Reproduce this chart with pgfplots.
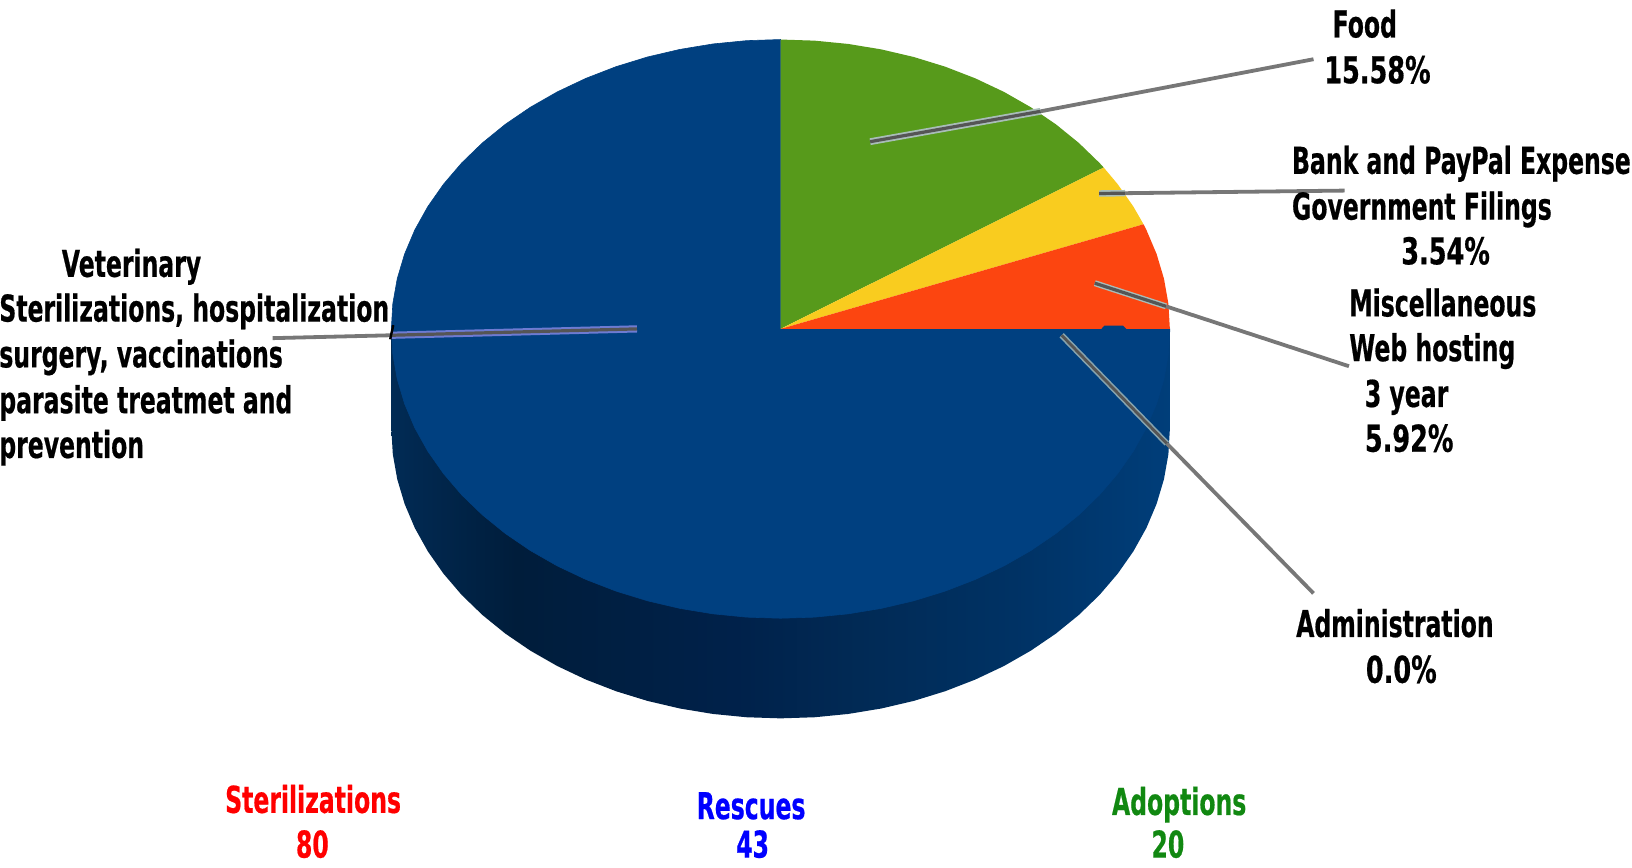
\documentclass[border=0pt]{standalone}
\usepackage{pgfplots}
\pgfplotsset{compat=1.18}
\usepackage{fontspec}
\setmainfont[FakeStretch=0.636,FakeBold=0.5]{DejaVu Sans}
\newfontfamily\pctfont[FakeStretch=0.69,FakeBold=0.5]{DejaVu Sans}
\definecolor{pieblue}{HTML}{004080}
\definecolor{piegreen}{HTML}{579A1B}
\definecolor{pieyellow}{HTML}{F9CC1F}
\definecolor{pieorange}{HTML}{FC4510}
\definecolor{leadgrey}{HTML}{777777}
\definecolor{leadcore}{HTML}{555555}
\definecolor{leadlight}{HTML}{A9BDB9}
\definecolor{txtgreen}{HTML}{118811}
\definecolor{wall0}{HTML}{012B55}
\definecolor{wall1}{HTML}{001D3B}
\definecolor{wall2}{HTML}{00214A}
\definecolor{wall3}{HTML}{012A55}
\definecolor{wall4}{HTML}{003264}
\definecolor{wall5}{HTML}{003E7A}
\pgfdeclarehorizontalshading{wall}{100bp}{
  color(0bp)=(wall0);
  color(25bp)=(wall0); color(33bp)=(wall1); color(47bp)=(wall2);
  color(55bp)=(wall3); color(65bp)=(wall4); color(75bp)=(wall5);
  color(100bp)=(wall5)}
\begin{document}
\begin{tikzpicture}
\path[use as bounding box] (0,0) rectangle (816pt,433.5pt);
\begin{axis}[
    at={(0,0)}, anchor=south west,
    scale only axis, width=816pt, height=433.5pt,
    xmin=-2.0053, xmax=2.1872,
    ymin=-1.8597, ymax=1.1367,
    hide axis,
]
% side wall
\addplot[shading=wall, draw=none] coordinates {
  (-1,0)(-1,-.346)(-.9962,-.4332)(-.9848,-.5196)(-.9659,-.6048)(-.9397,-.6880)(-.9063,-.7686)
  (-.8660,-.846)(-.8192,-.9196)(-.7660,-.9888)(-.7071,-1.0531)(-.6428,-1.1120)(-.5736,-1.1652)
  (-.5,-1.2120)(-.4226,-1.2523)(-.3420,-1.2857)(-.2588,-1.3119)(-.1736,-1.3308)(-.0872,-1.3422)
  (0,-1.346)(.0872,-1.3422)(.1736,-1.3308)(.2588,-1.3119)(.3420,-1.2857)(.4226,-1.2523)(.5,-1.2120)
  (.5736,-1.1652)(.6428,-1.1120)(.7071,-1.0531)(.7660,-.9888)(.8192,-.9196)(.8660,-.846)
  (.9063,-.7686)(.9397,-.6880)(.9659,-.6048)(.9848,-.5196)(.9962,-.4332)(1,-.346)(1,0)
} --cycle;
% Veterinary, 74.96
\addplot[fill=pieblue, draw=pieblue, line width=0.3pt] coordinates {
  (0,0)(1,0)(.9962,-.0872)(.9848,-.1736)(.9659,-.2588)(.9397,-.3420)(.9063,-.4226)(.8660,-.5)
  (.8192,-.5736)(.7660,-.6428)(.7071,-.7071)(.6428,-.7660)(.5736,-.8192)(.5,-.8660)(.4226,-.9063)
  (.3420,-.9397)(.2588,-.9659)(.1736,-.9848)(.0872,-.9962)(0,-1)
  (-.0872,-.9962)(-.1736,-.9848)(-.2588,-.9659)(-.3420,-.9397)(-.4226,-.9063)(-.5,-.8660)
  (-.5736,-.8192)(-.6428,-.7660)(-.7071,-.7071)(-.7660,-.6428)(-.8192,-.5736)(-.8660,-.5)
  (-.9063,-.4226)(-.9397,-.3420)(-.9659,-.2588)(-.9848,-.1736)(-.9962,-.0872)(-1,0)
  (-.9962,.0872)(-.9848,.1736)(-.9659,.2588)(-.9397,.3420)(-.9063,.4226)(-.8660,.5)
  (-.8192,.5736)(-.7660,.6428)(-.7071,.7071)(-.6428,.7660)(-.5736,.8192)(-.5,.8660)
  (-.4226,.9063)(-.3420,.9397)(-.2588,.9659)(-.1736,.9848)(-.0872,.9962)(0,1)
} --cycle;
% Food, 15.58
\addplot[fill=piegreen, draw=none] coordinates {
  (0,0)(0,1)(.0872,.9962)(.1736,.9848)(.2588,.9659)(.3420,.9397)(.4226,.9063)(.5,.8660)
  (.5736,.8192)(.6428,.7660)(.7071,.7071)(.7660,.6428)(.8192,.5736)(.83,.5577)
} --cycle;
% Bank and PayPal, 3.54
\addplot[fill=pieyellow, draw=none] coordinates {
  (0,0)(.83,.5577)(.8660,.5)(.9063,.4226)(.9323,.3616)
} --cycle;
% Miscellaneous, 5.92
\addplot[fill=pieorange, draw=none] coordinates {
  (0,0)(.9323,.3616)(.9397,.3420)(.9659,.2588)(.9848,.1736)(.9962,.0872)(1,0)
} --cycle;
\addplot[fill=pieblue, draw=none] coordinates {(.824,0)(.832,.011)(.88,.011)(.888,0)} --cycle;
% leader lines
\addplot[leadgrey, line width=1.9pt] coordinates {(.668,.752)(1.369,.932)};
\addplot[leadlight, line width=3.4pt] coordinates {(.230,.647)(.668,.752)};
\addplot[leadcore, line width=1.6pt] coordinates {(.230,.647)(.668,.752)};
\addplot[leadgrey, line width=1.9pt] coordinates {(.885,.469)(1.449,.478)};
\addplot[leadlight, line width=3.2pt] coordinates {(.818,.468)(.885,.469)};
\addplot[leadcore, line width=1.6pt] coordinates {(.818,.468)(.885,.469)};
\addplot[leadgrey, line width=1.9pt] coordinates {(.99,.078)(1.46,-.129)};
\addplot[leadlight, line width=3pt] coordinates {(.807,.158)(.99,.078)};
\addplot[leadcore, line width=1.6pt] coordinates {(.807,.158)(.99,.078)};
\addplot[leadgrey, line width=1.9pt] coordinates {(.992,-.396)(1.369,-.914)};
\addplot[leadlight!80!pieblue, line width=3pt] coordinates {(.722,-.022)(.992,-.396)};
\addplot[leadcore, line width=1.4pt] coordinates {(.722,-.022)(.992,-.396)};
\addplot[leadgrey, line width=1.9pt] coordinates {(-1,-.022)(-1.305,-.032)};
\addplot[blue!35!leadlight, line width=3.6pt] coordinates {(-.369,0)(-1,-.022)};
\addplot[leadcore, line width=1.6pt] coordinates {(-.369,0)(-1,-.022)};
\addplot[black, line width=1.2pt] coordinates {(-.995,.013)(-1.003,-.036)};
\end{axis}
% labels, placed in the reference's pixels
\begin{scope}[shift={(0,433.5pt)}, x=0.5204pt, y=-0.5204pt,
  every node/.style={anchor=base west, inner sep=0pt, font=\fontsize{18.5}{20}\selectfont\bfseries}]
\node at (59,266) {Veterinary};
\node at (-1,309) {Sterilizations, hospitalization};
\node at (-1,353) {surgery, vaccinations};
\node at (-1,397) {parasite treatmet and};
\node at (-1,440) {prevention};
\node at (1280,36) {Food};
\node at (1272,80) {\pctfont 15.58\%};
\node at (1241,167) {Bank and PayPal Expense};
\node at (1241,211) {Government Filings};
\node at (1346,254) {\pctfont 3.54\%};
\node at (1296,304) {Miscellaneous};
\node at (1296,347) {Web hosting};
\node at (1311,391) {3 year};
\node at (1311,434) {\pctfont 5.92\%};
\node at (1245,612) {Administration};
\node at (1312,656) {\pctfont 0.0\%};
\node[text=red] at (216,781) {Sterilizations};
\node[text=red] at (284,824) {80};
\node[text=blue] at (669,787) {Rescues};
\node[text=blue] at (707,824) {43};
\node[text=txtgreen] at (1068,783) {Adoptions};
\node[text=txtgreen] at (1106,824) {20};
\end{scope}
\end{tikzpicture}
\end{document}
